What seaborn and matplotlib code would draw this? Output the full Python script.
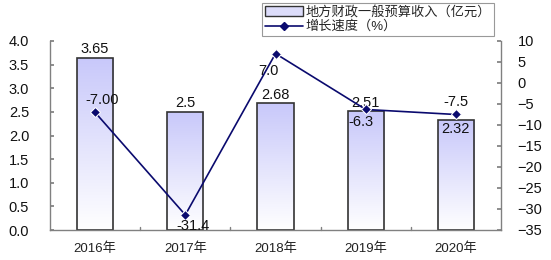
import numpy as np
import pandas as pd
import matplotlib
matplotlib.use("Agg")
import matplotlib.pyplot as plt
import seaborn as sns
from matplotlib.colors import LinearSegmentedColormap
from matplotlib.lines import Line2D
from matplotlib.patches import Patch

years = ["2016年", "2017年", "2018年", "2019年", "2020年"]
revenue = [3.65, 2.5, 2.68, 2.51, 2.32]
growth = [-7.00, -31.4, 7.0, -6.3, -7.5]
growth_labels = ["-7.00", "-31.4", "7.0", "-6.3", "-7.5"]
revenue_labels = ["3.65", "2.5", "2.68", "2.51", "2.32"]
legend_labels = ["地方财政一般预算收入（亿元）", "增长速度（%）"]

sns.set_theme(style="white")
plt.rcParams['font.family'] = ['Liberation Sans', 'Noto Sans CJK SC', 'DejaVu Sans']

df = pd.DataFrame({"year": years, "revenue": revenue, "growth": growth})

fig = plt.figure(figsize=(5.51, 2.60), dpi=100)
ax = fig.add_axes([50/551, 30/260, 451/551, 189/260])

sns.barplot(data=df, x="year", y="revenue", ax=ax, width=0.4,
            color="#c8c8ff", edgecolor="#333333", linewidth=1.2, zorder=2)

# gradient fill
cmap = LinearSegmentedColormap.from_list("g", ["#ffffff", "#c8c8fa"])
grad = np.linspace(0, 1, 256).reshape(-1, 1)
for p in ax.patches:
    x0, y0 = p.get_x(), p.get_y()
    w, h = p.get_width(), p.get_height()
    p.set_facecolor("none")
    im = ax.imshow(grad, extent=[x0, x0 + w, y0, y0 + h], origin="lower",
                   cmap=cmap, aspect="auto", zorder=1.5)
    im.set_clip_path(p)
ax.set_xlim(-0.5, 4.5)
ax.set_ylim(0, 4.0)

ax2 = ax.twinx()
sns.lineplot(data=df, x="year", y="growth", ax=ax2, color="#0a0a6e",
             marker="D", markersize=5, linewidth=1.2, sort=False, zorder=3)
ax2.set_ylim(-35, 10)
ax2.set_yticks(np.arange(-35, 11, 5))
ax.set_yticks(np.arange(0, 4.01, 0.5))
ax.set_yticklabels([f"{v:.1f}" for v in np.arange(0, 4.01, 0.5)])

for a in (ax, ax2):
    a.set_xlabel("")
    a.set_ylabel("")
    a.spines["top"].set_visible(False)
    for s in a.spines.values():
        s.set_color("#808080")
        s.set_linewidth(1.0)

ax.spines["right"].set_visible(False)
ax2.spines["left"].set_visible(False)
ax2.spines["bottom"].set_visible(False)

ax.tick_params(axis="y", direction="in", length=3, color="#808080",
               labelsize=10.5, pad=15, left=True)
ax2.tick_params(axis="y", direction="in", length=3, color="#808080",
                labelsize=10.5, pad=12, right=True)
ax.set_xticks(range(5))
ax.set_xticklabels(years, fontsize=9.5, color="#222222")
ax.tick_params(axis="x", length=0, pad=9)
# boundary ticks
for b in [0.5, 1.5, 2.5, 3.5]:
    ax.plot([b, b], [0, 0.06], color="#808080", lw=1, clip_on=False, zorder=4)
for t in ax.get_yticklabels() + ax2.get_yticklabels():
    t.set_color("#111111")

# bar labels
rev_pos = [(0.03, "bottom"), (0.03, "bottom"), (0.03, "bottom"),
           (0.03, "bottom"), (-0.03, "top")]
for i, (v, lab) in enumerate(zip(revenue, revenue_labels)):
    dy, va = rev_pos[i]
    ax.text(i, v + dy, lab, ha="center", va=va, fontsize=10.5, color="#111111",
            zorder=5)

# line labels
gl_pos = [(0.08, 1.2, "bottom"), (0.08, -1.0, "top"), (-0.08, -2.5, "top"),
          (-0.05, -1.3, "top"), (0.0, 1.3, "bottom")]
for i, (v, lab) in enumerate(zip(growth, growth_labels)):
    dx, dy, va = gl_pos[i]
    ax2.text(i + dx, v + dy, lab, ha="center", va=va, fontsize=10.5, color="#111111",
             zorder=5)

ax.set_zorder(ax2.get_zorder() - 1)
ax.patch.set_visible(True)
ax2.patch.set_visible(False)

handles = [Patch(facecolor="#dcdcfa", edgecolor="#333333", linewidth=1.0),
           Line2D([0], [0], color="#0a0a6e", marker="D", markersize=4, lw=1.2)]
leg = fig.legend(handles, legend_labels, loc="upper left",
                 bbox_to_anchor=(262/551, 1 - 3/260), fontsize=9.5, frameon=True,
                 fancybox=False, edgecolor="#808080", borderpad=0.2,
                 labelspacing=0.15, handlelength=2.9, handletextpad=0.2,
                 borderaxespad=0)
leg.get_frame().set_linewidth(0.8)

fig.savefig("out.png", dpi=100)
